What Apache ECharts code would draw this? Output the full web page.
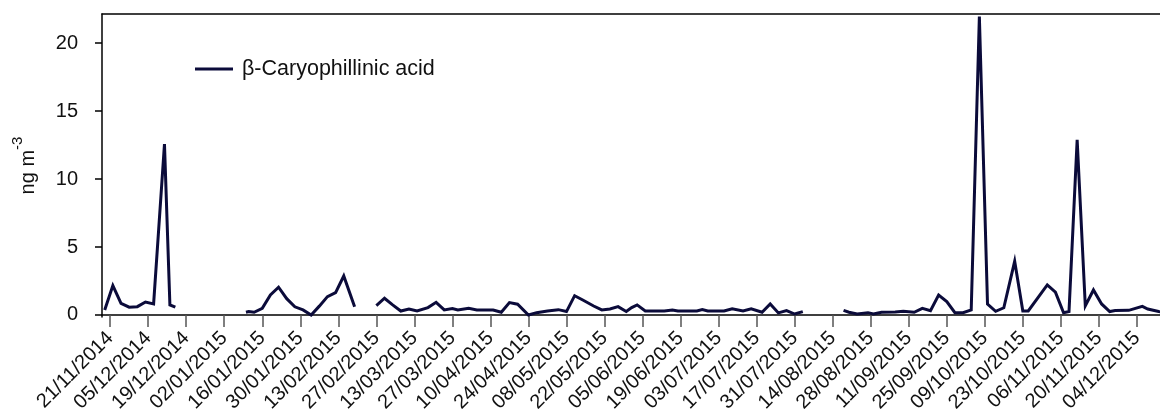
<!DOCTYPE html>
<html><head><meta charset="utf-8">
<script src="https://cdn.jsdelivr.net/npm/echarts@6/dist/echarts.min.js"></script>
<style>html,body{margin:0;padding:0;background:#fff}#c{width:1160px;height:418px}</style>
</head><body><div id="c"></div>
<script>
const seriesName = 'β-Caryophillinic acid';
const sampleDates = [
 '2014-11-19','2014-11-22','2014-11-25','2014-11-28','2014-12-01','2014-12-04','2014-12-07','2014-12-11','2014-12-13','2014-12-15',
 '2014-12-30',
 '2015-01-10','2015-01-11','2015-01-13','2015-01-16','2015-01-19','2015-01-22','2015-01-25','2015-01-28','2015-01-31','2015-02-03',
 '2015-02-06','2015-02-09','2015-02-12','2015-02-15','2015-02-19',
 '2015-02-23',
 '2015-02-27','2015-03-02','2015-03-05','2015-03-08','2015-03-11','2015-03-14','2015-03-18','2015-03-21','2015-03-24','2015-03-27',
 '2015-03-29','2015-04-02','2015-04-05','2015-04-11','2015-04-14','2015-04-17','2015-04-20','2015-04-24','2015-04-27','2015-05-01',
 '2015-05-05','2015-05-08','2015-05-11','2015-05-14','2015-05-18','2015-05-21','2015-05-24','2015-05-27','2015-05-30','2015-06-01',
 '2015-06-03','2015-06-06','2015-06-13','2015-06-16','2015-06-18','2015-06-25','2015-06-27','2015-06-29','2015-07-05','2015-07-08',
 '2015-07-12','2015-07-15','2015-07-19','2015-07-22','2015-07-25','2015-07-28','2015-07-31','2015-08-03',
 '2015-08-10',
 '2015-08-18','2015-08-20','2015-08-23','2015-08-27','2015-08-29','2015-09-01','2015-09-06','2015-09-09','2015-09-13','2015-09-16',
 '2015-09-19','2015-09-22','2015-09-25','2015-09-28','2015-10-01','2015-10-04','2015-10-07','2015-10-10','2015-10-13','2015-10-16',
 '2015-10-20','2015-10-23','2015-10-25','2015-11-01','2015-11-04','2015-11-07','2015-11-09','2015-11-12','2015-11-15','2015-11-18',
 '2015-11-21','2015-11-24','2015-11-26','2015-12-01','2015-12-06','2015-12-08','2015-12-12','2015-12-14'
];
const values = [
 0.37,2.16,0.86,0.57,0.61,0.95,0.81,12.57,0.74,0.57,
 null,
 0.20,0.25,0.20,0.49,1.47,2.04,1.20,0.60,0.37,0.00,
 0.65,1.35,1.65,2.87,0.61,
 null,
 0.69,1.23,0.74,0.29,0.44,0.29,0.54,0.93,0.37,0.47,
 0.37,0.49,0.37,0.37,0.20,0.91,0.79,0.00,0.17,0.29,
 0.39,0.25,1.42,1.10,0.66,0.37,0.44,0.61,0.25,0.54,
 0.74,0.29,0.29,0.37,0.29,0.29,0.39,0.29,0.29,0.46,
 0.29,0.46,0.20,0.81,0.15,0.32,0.07,0.25,
 null,
 0.34,0.20,0.07,0.17,0.07,0.20,0.22,0.27,0.20,0.49,
 0.32,1.47,0.98,0.17,0.17,0.37,21.97,0.80,0.27,0.53,
 3.95,0.30,0.30,2.21,1.68,0.16,0.25,12.89,0.67,1.84,
 0.81,0.25,0.32,0.34,0.63,0.44,0.25,0.22
];
const tickLabels = [
 '21/11/2014','05/12/2014','19/12/2014','02/01/2015','16/01/2015','30/01/2015','13/02/2015','27/02/2015',
 '13/03/2015','27/03/2015','10/04/2015','24/04/2015','08/05/2015','22/05/2015','05/06/2015','19/06/2015',
 '03/07/2015','17/07/2015','31/07/2015','14/08/2015','28/08/2015','11/09/2015','25/09/2015','09/10/2015',
 '23/10/2015','06/11/2015','20/11/2015','04/12/2015'
];
const yTicks = [0, 5, 10, 15, 20];
const xMinDate = '2014-11-18';
const xMaxDate = '2015-12-12T12';

function parseISO(s) {
  const parts = s.split('T');
  const [y, m, d] = parts[0].split('-').map(Number);
  const h = parts[1] ? Number(parts[1]) : 0;
  return Date.UTC(y, m - 1, d, h);
}
function parseDMY(s) { const [d, m, y] = s.split('/').map(Number); return Date.UTC(y, m - 1, d); }
function fmt(v) {
  const dt = new Date(v); const p = n => String(n).padStart(2, '0');
  return p(dt.getUTCDate()) + '/' + p(dt.getUTCMonth() + 1) + '/' + dt.getUTCFullYear();
}
const tickValues = tickLabels.map(parseDMY);
const seriesData = sampleDates.map((d, i) => [parseISO(d), values[i]]);
const FONT = '"Liberation Sans", Arial, sans-serif';
const INK = '#0b0b3a';

const chart = echarts.init(document.getElementById('c'), null, { renderer: 'canvas' });
chart.setOption({
  animation: false,
  backgroundColor: '#fff',
  grid: { left: 102, right: 0, top: 14, bottom: 101, containLabel: false },
  legend: {
    left: 190, top: 53, icon: 'rect', itemWidth: 38, itemHeight: 3,
    textStyle: { fontFamily: FONT, fontSize: 21.5, color: '#111', padding: [0, 0, 0, 4] },
    data: [seriesName]
  },
  xAxis: [{
    type: 'value', min: parseISO(xMinDate), max: parseISO(xMaxDate),
    axisLine: { show: true, lineStyle: { color: '#000', width: 1.5 } },
    axisTick: { show: true, length: 12, inside: false, customValues: tickValues, lineStyle: { color: '#555', width: 1.5 } },
    axisLabel: { customValues: tickValues, rotate: 45, margin: 18, fontFamily: FONT, fontSize: 20, color: '#111', formatter: fmt },
    splitLine: { show: false }
  }, {
    type: 'value', position: 'top', min: parseISO(xMinDate), max: parseISO(xMaxDate),
    axisLine: { show: true, lineStyle: { color: '#000', width: 1.5 } },
    axisTick: { show: false }, axisLabel: { show: false }, splitLine: { show: false }
  }],
  yAxis: {
    type: 'value', min: -0.15, max: 22.15,
    name: '{a|ng m}{b|-3}', nameLocation: 'middle', nameRotate: 90, nameGap: 64,
    nameTextStyle: {
      rich: {
        a: { fontFamily: FONT, fontSize: 20, color: '#111', lineHeight: 28, verticalAlign: 'bottom' },
        b: { fontFamily: FONT, fontSize: 15, color: '#111', lineHeight: 15, verticalAlign: 'top' }
      }
    },
    axisLine: { show: true, lineStyle: { color: '#000', width: 1.5 } },
    axisTick: { show: true, length: 7, customValues: yTicks, lineStyle: { color: '#000', width: 1.5 } },
    axisLabel: { customValues: yTicks, margin: 24, fontFamily: FONT, fontSize: 20, color: '#111' },
    splitLine: { show: false }
  },
  series: [{
    name: seriesName, type: 'line', data: seriesData, symbol: 'none', showSymbol: false,
    connectNulls: false, color: INK,
    lineStyle: { color: INK, width: 3, join: 'miter' }
  }]
});
</script>
</body></html>
